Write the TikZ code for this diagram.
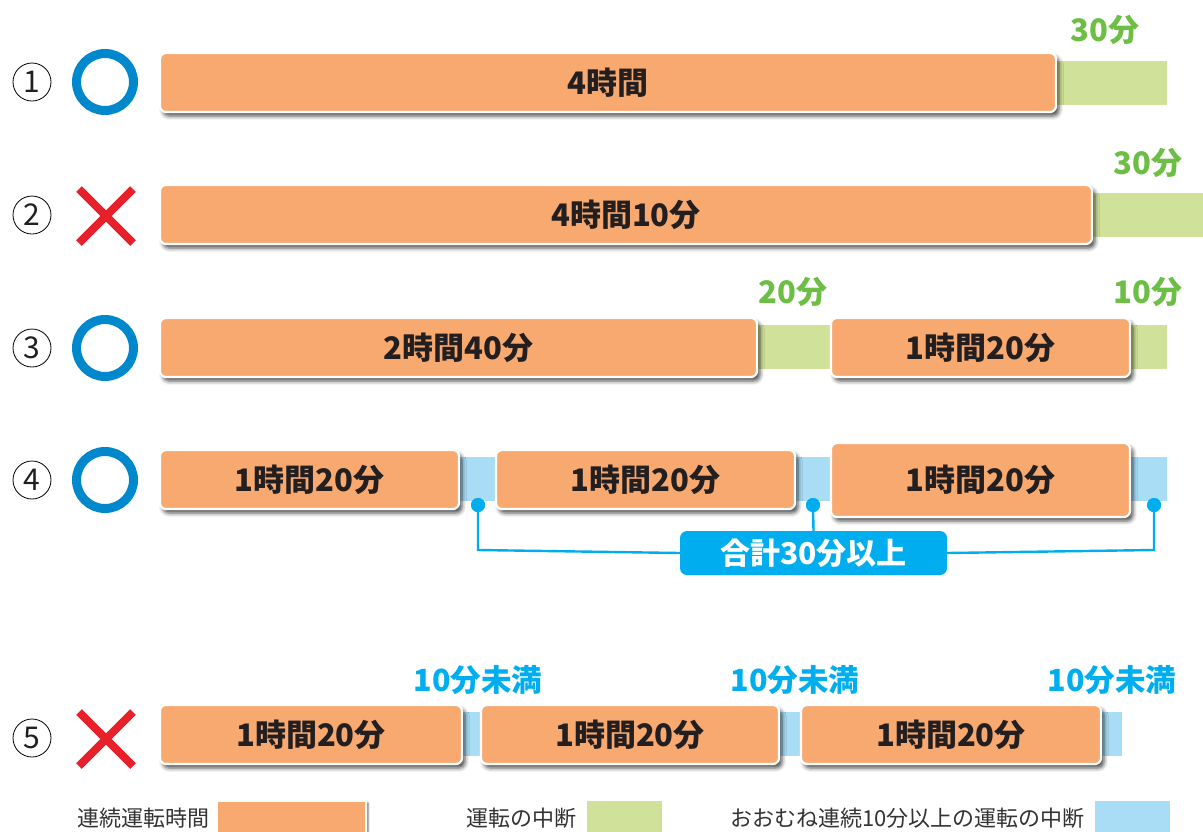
\documentclass[tikz,border=0pt]{standalone}
\usepackage{fontspec}
\setmainfont{Noto Sans CJK JP}
\usetikzlibrary{shadows.blur}
\definecolor{barorange}{HTML}{F7A970}
\definecolor{bargreen}{HTML}{D0E29A}
\definecolor{barblue}{HTML}{A8DDF5}
\definecolor{tagcyan}{HTML}{00AEEF}
\definecolor{okblue}{HTML}{0088CC}
\definecolor{ngred}{HTML}{E8202A}
\definecolor{lblgreen}{HTML}{6DBE45}
\definecolor{txtdark}{HTML}{231F20}
\definecolor{legtxt}{HTML}{333333}
\tikzset{
  obar/.style={rectangle, rounded corners=6pt, fill=barorange, draw=white, line width=2.2pt,
    blur shadow={shadow xshift=3pt, shadow yshift=-4pt, shadow blur radius=4pt, shadow opacity=70},
    font=\fontsize{31}{34}\selectfont\bfseries, text=txtdark, inner sep=0pt},
  gbar/.style={rectangle, fill=bargreen, inner sep=0pt},
  bbar/.style={rectangle, fill=barblue, inner sep=0pt},
  glabel/.style={font=\fontsize{31}{34}\selectfont\bfseries, text=lblgreen, inner sep=0pt},
  clabel/.style={font=\fontsize{30.5}{34}\selectfont\bfseries, text=tagcyan, inner sep=0pt},
  numcirc/.style={circle, draw=black, line width=0.8pt, minimum size=38pt, inner sep=0pt,
    font=\fontsize{30}{32}\selectfont, text=txtdark},
  okmark/.style={circle, draw=okblue, line width=9pt, minimum size=57pt, inner sep=0pt},
  ngmark/.style={line width=8pt, draw=ngred},
  leg/.style={font=\fontsize{22}{24}\selectfont, text=legtxt, inner sep=0pt},
  link/.style={draw=tagcyan, line width=2.4pt},
  dot/.style={circle, fill=tagcyan, minimum size=14pt, inner sep=0pt},
}
\begin{document}
\begin{tikzpicture}[x=1pt,y=-1pt]
\useasboundingbox (0,0) rectangle (1203,831);
% ---------- row 1
\node[numcirc] (n1) at (32,82) {1};
\node[okmark] (m1) at (105,82) {};
\node[gbar, minimum width=130pt, minimum height=44pt] (g1) at (1102,83) {};
\node[obar, minimum width=896pt, minimum height=59pt] (o1) at (608,82.5) {4時間};
\node[glabel] (l1) at (1105,30) {30分};
% ---------- row 2
\node[numcirc] (n2) at (32,215) {2};
\node[coordinate] (x2a) at (79,189) {};
\node[coordinate] (x2b) at (133,243) {};
\node[coordinate] (x2c) at (133,189) {};
\node[coordinate] (x2d) at (79,243) {};
\draw[ngmark] (x2a) -- (x2b);
\draw[ngmark] (x2c) -- (x2d);
\node[gbar, minimum width=123pt, minimum height=44pt] (g2) at (1141.5,215) {};
\node[obar, minimum width=932pt, minimum height=59pt] (o2) at (626,214.5) {4時間10分};
\node[glabel] (l2) at (1148,163) {30分};
% ---------- row 3
\node[numcirc] (n3) at (32,348) {3};
\node[okmark] (m3) at (105,348) {};
\node[gbar, minimum width=417pt, minimum height=44pt] (g3) at (958.5,347) {};
\node[obar, minimum width=597pt, minimum height=59pt] (o3a) at (458.5,347.5) {2時間40分};
\node[obar, minimum width=299pt, minimum height=59pt] (o3b) at (980.5,347.5) {1時間20分};
\node[glabel] (l3a) at (793,292) {20分};
\node[glabel] (l3b) at (1148,292) {10分};
% ---------- row 4
\node[numcirc] (n4) at (32,480) {4};
\node[okmark] (m4) at (105,480) {};
\node[bbar, minimum width=717pt, minimum height=44pt] (b4) at (808.5,479) {};
\node[dot] (d4a) at (478,505) {};
\node[dot] (d4b) at (813,505) {};
\node[dot] (d4c) at (1154,505) {};
\node[coordinate] (c4a) at (478,550) {};
\node[coordinate] (c4c) at (1154,550) {};
\node[rectangle, rounded corners=7pt, fill=tagcyan, minimum width=267pt, minimum height=44pt,
  inner sep=0pt, text=white, font=\fontsize{30}{32}\selectfont\bfseries] (t4) at (813.5,553) {合計30分以上};
\draw[link] (d4a.center) -- (c4a) -- (t4.west);
\draw[link] (t4.east) -- (c4c) -- (d4c.center);
\draw[link] (d4b.center) -- (t4.north);
\node[dot] at (d4a) {};
\node[dot] at (d4b) {};
\node[dot] at (d4c) {};
\node[obar, minimum width=299pt, minimum height=59pt] (o4a) at (309.5,479.5) {1時間20分};
\node[obar, minimum width=299pt, minimum height=59pt] (o4b) at (645.5,479.5) {1時間20分};
\node[obar, minimum width=299pt, minimum height=74pt] (o4c) at (980.5,480) {1時間20分};
% ---------- row 5
\node[numcirc] (n5) at (32,738) {5};
\node[coordinate] (x5a) at (79,712) {};
\node[coordinate] (x5b) at (133,766) {};
\node[coordinate] (x5c) at (133,712) {};
\node[coordinate] (x5d) at (79,766) {};
\draw[ngmark] (x5a) -- (x5b);
\draw[ngmark] (x5c) -- (x5d);
\node[bbar, minimum width=667pt, minimum height=44pt] (b5) at (788.5,734) {};
\node[obar, minimum width=302pt, minimum height=59pt] (o5a) at (311,734.5) {1時間20分};
\node[obar, minimum width=298pt, minimum height=59pt] (o5b) at (630,734.5) {1時間20分};
\node[obar, minimum width=300pt, minimum height=59pt] (o5c) at (951,734.5) {1時間20分};
\node[clabel] (l5a) at (478,680) {10分未満};
\node[clabel] (l5b) at (795,680) {10分未満};
\node[clabel] (l5c) at (1112,680) {10分未満};
% ---------- legend
\node[leg, anchor=east] (lg1) at (210,818) {連続運転時間};
\node[rectangle, fill=barorange, draw=white, line width=1.5pt,
  blur shadow={shadow xshift=2pt, shadow yshift=-2pt, shadow blur radius=2pt, shadow opacity=60},
  minimum width=149pt, minimum height=34pt, inner sep=0pt] (s1) at (291.5,818) {};
\node[leg, anchor=east] (lg2) at (577,818) {運転の中断};
\node[gbar, minimum width=75pt, minimum height=34pt] (s2) at (624.5,818) {};
\node[leg, anchor=east] (lg3) at (1085,818) {おおむね連続10分以上の運転の中断};
\node[bbar, minimum width=75pt, minimum height=34pt] (s3) at (1132.5,818) {};
\end{tikzpicture}
\end{document}
